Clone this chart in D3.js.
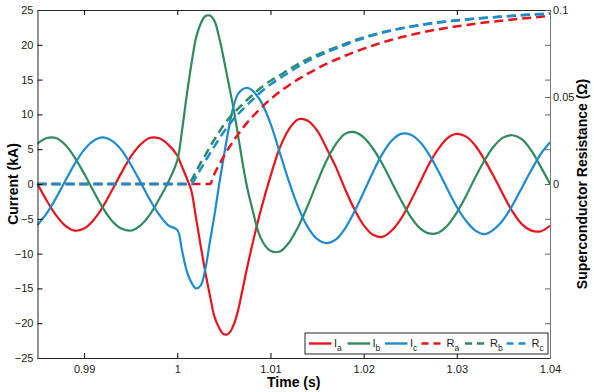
<html>
<head>
<meta charset="utf-8">
<script src="https://d3js.org/d3.v7.min.js"></script>
<style>
  body { margin: 0; background: #fff; }
  svg { font-family: "Liberation Sans", Arial, sans-serif; }
  .tick text { font-size: 11px; fill: #1a1a1a; }
</style>
</head>
<body>
<svg width="594" height="392"></svg>
<script>
// time samples (s)
const time = [0.985,0.986,0.987,0.988,0.989,0.990,0.991,0.992,0.993,0.994,0.995,0.996,0.997,0.998,0.999,
  1.000,1.0005,1.001,1.0015,1.002,1.0025,1.003,1.0035,1.004,1.0045,1.005,1.0055,1.006,1.0065,1.007,1.0075,1.008,
  1.009,1.010,1.011,1.012,1.013,1.014,1.015,1.016,1.017,1.018,1.019,1.020,1.021,1.022,1.023,1.024,
  1.025,1.026,1.027,1.028,1.029,1.030,1.031,1.032,1.033,1.034,1.035,1.036,1.037,1.038,1.039,1.040];

// phase currents (kA)
const Ia = [0.0,-2.4,-4.5,-6.0,-6.7,-6.4,-5.2,-3.3,-0.9,1.6,3.9,5.6,6.6,6.6,5.7,
  4.1,2.5,0.9,-0.9,-4.8,-8.8,-12.6,-16.0,-19.1,-20.7,-21.6,-21.5,-20.4,-18.3,-15.2,-12.0,-9.0,
  -3.6,1.1,5.2,7.9,9.3,9.1,7.7,5.2,2.5,-0.7,-3.6,-5.9,-7.3,-7.6,-6.7,-5.0,
  -2.6,0.1,2.8,5.0,6.6,7.2,6.8,5.5,3.4,1.0,-1.6,-4.0,-5.8,-6.7,-6.8,-6.0];
const Ib = [5.8,6.6,6.6,5.6,3.8,1.5,-1.0,-3.4,-5.3,-6.4,-6.7,-6.0,-4.5,-2.3,0.2,
  3.4,7.6,12.6,17.1,20.9,23.0,24.1,24.2,23.4,21.0,17.9,14.5,11.1,7.2,3.1,-0.5,-3.3,
  -7.9,-9.6,-9.7,-8.4,-6.1,-3.1,0.2,3.3,5.7,7.2,7.45,6.7,5.1,2.9,0.3,-2.3,
  -4.6,-6.3,-7.1,-7.0,-5.95,-4.1,-1.7,1.0,3.45,5.45,6.7,7.0,6.4,4.8,2.5,0.0];
const Ic = [-5.9,-4.2,-2.0,0.5,2.9,4.9,6.2,6.7,6.2,4.9,2.8,0.4,-2.1,-4.3,-5.9,
  -6.6,-9.5,-12.4,-14.1,-15.0,-14.6,-12.3,-8.3,-4.4,0.0,4.0,7.8,11.0,12.9,13.6,13.8,13.5,
  11.8,8.7,4.5,0.3,-3.4,-6.2,-7.9,-8.5,-8.0,-6.4,-4.0,-1.2,1.7,4.3,6.2,7.2,
  7.1,6.1,4.3,1.9,-0.75,-3.3,-5.3,-6.7,-7.2,-6.5,-5.1,-3.0,-0.5,2.0,4.3,6.0];

// superconductor resistances (ohm)
const Ra = [0,0,0,0,0,0,0,0,0,0,0,0,0,0,0,
  0,0,0,0,0,0,0,0,0.006,0.011,0.016,0.0205,0.0245,0.0283,0.032,0.0353,0.0383,
  0.0438,0.0487,0.053,0.0568,0.0603,0.0634,0.0663,0.069,0.0714,0.0737,0.0758,0.0778,0.0796,0.0813,0.0829,0.0843,
  0.0856,0.0868,0.0879,0.0889,0.0898,0.0906,0.0914,0.0921,0.0928,0.0934,0.094,0.0946,0.0951,0.0956,0.0961,0.0966];
const Rb = [0,0,0,0,0,0,0,0,0,0,0,0,0,0,0,
  0,0,0,0.002,0.007,0.012,0.0165,0.0214,0.0257,0.030,0.034,0.0375,0.0405,0.0432,0.0458,0.0484,0.0508,
  0.0555,0.0593,0.0625,0.066,0.069,0.0718,0.0742,0.0765,0.0785,0.0805,0.0825,0.0842,0.0858,0.0872,0.0884,0.0895,
  0.0905,0.0914,0.0922,0.0929,0.0935,0.0941,0.0946,0.0951,0.0955,0.0959,0.0963,0.0967,0.0971,0.0974,0.0977,0.098];
const Rc = [0,0,0,0,0,0,0,0,0,0,0,0,0,0,0,
  0,0,0,0,0.004,0.0085,0.013,0.0175,0.0218,0.026,0.030,0.0337,0.037,0.040,0.0428,0.0455,0.048,
  0.053,0.0572,0.0607,0.0643,0.0676,0.0706,0.0732,0.0756,0.0778,0.0799,0.082,0.0838,0.0855,0.0869,0.0882,0.0893,
  0.0903,0.0912,0.092,0.0928,0.0934,0.094,0.0945,0.095,0.0954,0.0958,0.0962,0.0966,0.097,0.0973,0.0976,0.0979];

const xTicks = [0.99, 1, 1.01, 1.02, 1.03, 1.04];
const yTicks = [-25, -20, -15, -10, -5, 0, 5, 10, 15, 20, 25];
const rLabels = [0, 0.05, 0.1];
const rTicks = [-0.08, -0.06, -0.04, -0.02, 0, 0.02, 0.04, 0.05, 0.06, 0.08, 0.1];

const red = '#e8141b', green = '#2f8a5c', blue = '#1d8bd1';

const svg = d3.select('svg');
const L = 37.5, R = 550, T = 10, B = 358;

const x = d3.scaleLinear().domain([0.985, 1.04]).range([L, R]);
const y = d3.scaleLinear().domain([-25, 25]).range([B, T]);
const yr = d3.scaleLinear().domain([-0.1, 0.1]).range([B, T]);

// curves
const cur = d3.line().x((d, i) => x(time[i])).y(d => y(d)).curve(d3.curveCatmullRom);
const res = d3.line().x((d, i) => x(time[i])).y(d => yr(d)).curve(d3.curveMonotoneX);

const plot = svg.append('g');
[[Ia, red], [Ib, green], [Ic, blue]].forEach(([s, c]) => {
  plot.append('path').attr('d', cur(s)).attr('fill', 'none')
    .attr('stroke', c).attr('stroke-width', 2.2);
});
[[Ra, red], [Rb, green], [Rc, blue]].forEach(([s, c]) => {
  plot.append('path').attr('d', res(s)).attr('fill', 'none')
    .attr('stroke', c).attr('stroke-width', 2.5).attr('stroke-dasharray', '9,5');
});

// axes, ticks pointing inward
const fmtY = d3.format('d');
svg.append('g').attr('transform', `translate(${L},0)`)
  .call(d3.axisLeft(y).tickValues(yTicks).tickFormat(fmtY).tickSizeInner(-5).tickSizeOuter(0).tickPadding(4));
svg.append('g').attr('transform', `translate(0,${B})`)
  .call(d3.axisBottom(x).tickValues(xTicks).tickFormat(d => d3.format('~g')(d)).tickSizeInner(-5).tickSizeOuter(0).tickPadding(7));
svg.append('g').attr('transform', `translate(0,${T})`)
  .call(d3.axisTop(x).tickValues(xTicks).tickFormat('').tickSizeInner(-5).tickSizeOuter(0));
const rAxis = svg.append('g').attr('transform', `translate(${R},0)`)
  .call(d3.axisRight(yr).tickValues(rTicks)
    .tickFormat(d => rLabels.some(v => Math.abs(v - d) < 1e-9) ? d3.format('~g')(d) : '')
    .tickSizeInner(-5).tickSizeOuter(0).tickPadding(3));
rAxis.selectAll('line').attr('stroke', '#666');
rAxis.select('.domain').attr('stroke', '#777');

svg.selectAll('.domain').filter(function () { return this.parentNode !== rAxis.node(); })
  .attr('stroke', '#262626');
svg.selectAll('.tick line').attr('stroke-width', 1);

// axis titles
svg.append('text').attr('transform', `translate(18,${(T + B) / 2}) rotate(-90)`)
  .attr('text-anchor', 'middle').attr('font-size', 14).attr('font-weight', 'bold')
  .text('Current (kA)');
svg.append('text').attr('x', (L + R) / 2).attr('y', 387)
  .attr('text-anchor', 'middle').attr('font-size', 14).attr('font-weight', 'bold')
  .text('Time (s)');
svg.append('text').attr('transform', `translate(587,${(T + B) / 2}) rotate(-90)`)
  .attr('text-anchor', 'middle').attr('font-size', 14).attr('font-weight', 'bold')
  .text('Superconductor Resistance (Ω)');

// legend
const legNames = [['I', 'a'], ['I', 'b'], ['I', 'c'], ['R', 'a'], ['R', 'b'], ['R', 'c']];
const legColors = [red, green, blue, red, green, blue];
const legDash = [false, false, false, true, true, true];
const leg = svg.append('g');
leg.append('rect').attr('x', 305).attr('y', 333).attr('width', 243).attr('height', 21)
  .attr('fill', '#fff').attr('stroke', '#262626').attr('stroke-width', 1);
const legX = [309, 347.5, 385, 421.5, 465, 506.5];
legNames.forEach((n, i) => {
  const gx = legX[i];
  leg.append('line').attr('x1', gx).attr('x2', gx + 22.5).attr('y1', 343.5).attr('y2', 343.5)
    .attr('stroke', legColors[i]).attr('stroke-width', 2.4)
    .attr('stroke-dasharray', legDash[i] ? '7,5' : null);
  const t = leg.append('text').attr('x', gx + 25).attr('y', 347).attr('font-size', 11).attr('fill', '#1a1a1a');
  t.append('tspan').text(n[0]);
  t.append('tspan').attr('dy', 4).attr('font-size', 8.5).text(n[1]);
});
</script>
</body>
</html>
